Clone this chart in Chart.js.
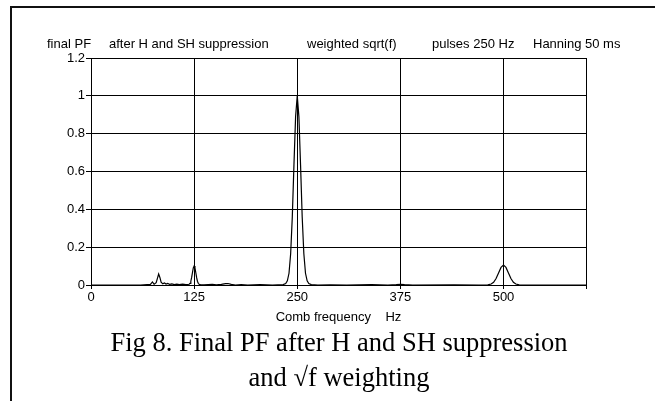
<!DOCTYPE html>
<html>
<head>
<meta charset="utf-8">
<script src="https://cdn.jsdelivr.net/npm/chart.js@4.4.0/dist/chart.umd.min.js"></script>
<style>
  html, body { margin: 0; padding: 0; background: #fff; }
  #wrap { position: relative; width: 655px; height: 401px; overflow: hidden; font-family: Arial, "Liberation Sans", sans-serif; }
  #frameTop { position: absolute; left: 10px; top: 6px; width: 645px; height: 2px; background: #111; }
  #frameLeft { position: absolute; left: 10px; top: 6px; width: 2px; height: 395px; background: #111; }
  canvas { position: absolute; left: 0; top: 0; }
  .hdr { position: absolute; top: 36px; font-size: 13px; white-space: pre; color: #000; }
  .cap { position: absolute; left: 0; width: 678px; text-align: center; font-family: "Liberation Serif", "Times New Roman", serif; font-size: 26.5px; color: #000; line-height: 30px; }
</style>
</head>
<body>
<div id="wrap">
  <canvas id="pfChart" width="655" height="401"></canvas>
  <div id="frameTop"></div>
  <div id="frameLeft"></div>
  <div class="hdr" style="left:47px">final PF</div>
  <div class="hdr" style="left:109px">after H and SH suppression</div>
  <div class="hdr" style="left:307px">weighted sqrt(f)</div>
  <div class="hdr" style="left:432px">pulses 250 Hz</div>
  <div class="hdr" style="left:533px">Hanning 50 ms</div>
  <div class="cap" style="top:327px">Fig 8. Final PF after H and SH suppression</div>
  <div class="cap" style="top:362px">and √f weighting</div>
</div>
<script>
// comb frequency (Hz) and final PF
const freqHz = [
  0, 60, 72, 74.5, 76.5, 79, 80.5, 82, 83.5, 85,
  87, 89, 91, 93, 95.5, 98, 101, 104, 107, 111,
  115, 119, 120, 121, 122, 123, 124, 125, 126, 127,
  128, 129, 130, 131, 133, 137, 142, 147, 152, 158,
  163, 166, 170, 175, 182, 190, 205, 220, 233, 236,
  238, 240, 242, 244, 246, 248, 250, 252, 254, 256,
  258, 260, 262, 264, 267, 275, 290, 310, 340, 360,
  370, 375, 380, 390, 440, 470, 481, 485, 488, 491,
  494, 497, 500, 503, 506, 509, 512, 515, 519, 530,
  600
];
const finalPF = [
  0, 0, 0.003, 0.016, 0.004, 0.012, 0.035, 0.058, 0.04, 0.015,
  0.006, 0.011, 0.005, 0.008, 0.003, 0.006, 0.002, 0.005, 0.002, 0.005,
  0.002, 0.004, 0.009, 0.02, 0.04, 0.066, 0.09, 0.1, 0.09, 0.066,
  0.04, 0.02, 0.009, 0.004, 0.001, 0.001, 0.002, 0.003, 0.001, 0.003,
  0.007, 0.008, 0.003, 0, 0.002, 0, 0.002, 0, 0.002, 0.008,
  0.022, 0.062, 0.165, 0.36, 0.635, 0.89, 1.0, 0.89, 0.635, 0.36,
  0.165, 0.062, 0.022, 0.008, 0.002, 0, 0.001, 0, 0.002, 0,
  0.002, 0.004, 0.002, 0, 0.001, 0, 0.001, 0.005, 0.014, 0.034,
  0.064, 0.093, 0.105, 0.093, 0.064, 0.034, 0.014, 0.005, 0.001, 0,
  0
];

const xTickValues = [0, 125, 250, 375, 500, 600];
const xTickLabels = ['0', '125', '250', '375', '500', ''];
const yTickValues = [0, 0.2, 0.4, 0.6, 0.8, 1, 1.2];
const yTickLabels = ['0', '0.2', '0.4', '0.6', '0.8', '1', '1.2'];

const tickFont = { family: 'Arial, "Liberation Sans", sans-serif', size: 13 };

const points = freqHz.map((f, i) => ({ x: f, y: finalPF[i] }));

const ctx = document.getElementById('pfChart').getContext('2d');
new Chart(ctx, {
  type: 'scatter',
  data: {
    datasets: [{
      data: points,
      showLine: true,
      borderColor: '#000',
      borderWidth: 1.2,
      pointRadius: 0,
      tension: 0
    }]
  },
  options: {
    responsive: false,
    animation: false,
    layout: { padding: { left: 0, right: 69, top: 58, bottom: 76 } },
    plugins: { legend: { display: false }, tooltip: { enabled: false } },
    scales: {
      x: {
        type: 'linear', min: 0, max: 600,
        afterBuildTicks: s => { s.ticks = xTickValues.map(v => ({ value: v })); },
        afterFit: s => { s.height = 40; },
        ticks: {
          autoSkip: false, maxRotation: 0, padding: 1, color: '#000', font: tickFont,
          callback: (v, i) => xTickLabels[i]
        },
        grid: { color: '#000', lineWidth: 1, tickLength: 4 },
        border: { color: '#000', width: 1 },
        title: { display: true, text: 'Comb frequency    Hz', color: '#000', font: tickFont, padding: { top: 0, bottom: 0 } }
      },
      y: {
        min: 0, max: 1.2,
        afterBuildTicks: s => { s.ticks = yTickValues.map(v => ({ value: v })); },
        afterFit: s => { s.width = 91; },
        ticks: { padding: 1, color: '#000', font: tickFont, callback: (v, i) => yTickLabels[i] },
        grid: { color: '#000', lineWidth: 1, tickLength: 5 },
        border: { color: '#000', width: 1 }
      }
    }
  }
});
</script>
</body>
</html>
